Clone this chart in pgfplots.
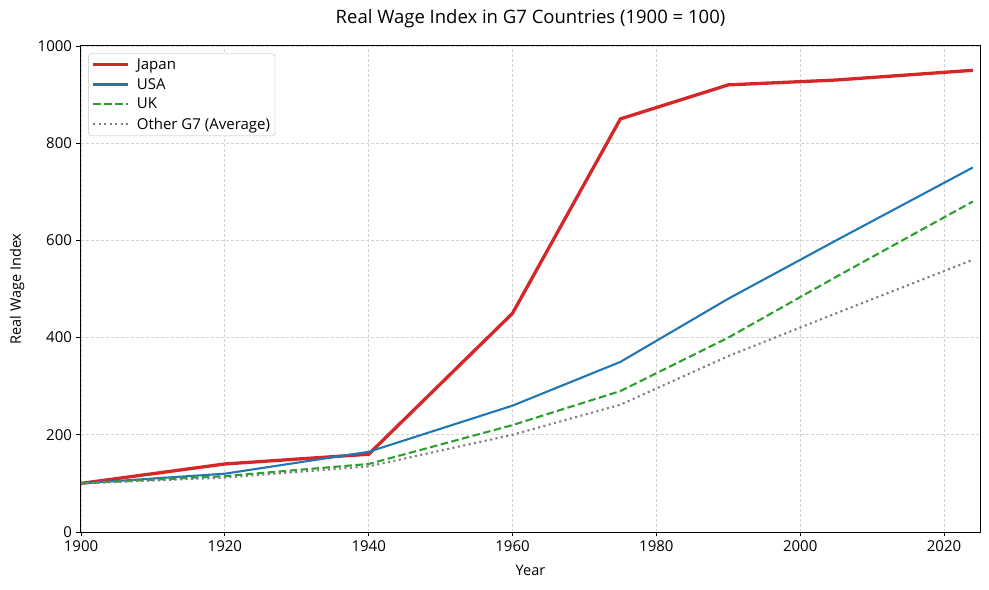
\documentclass[border=0pt]{standalone}
\usepackage{fontspec}
\setmainfont{Open Sans}
\usepackage{pgfplots}
\pgfplotsset{compat=1.18}
\definecolor{cJ}{HTML}{D62728}
\definecolor{cU}{HTML}{1F77B4}
\definecolor{cK}{HTML}{2CA02C}
\definecolor{cO}{HTML}{7F7F7F}
\begin{document}
\begin{tikzpicture}
\begin{axis}[
  at={(0,0)}, anchor=south west,
  scale only axis,
  width=899bp, height=486bp,
  xmin=1900, xmax=2025, ymin=0, ymax=1000,
  xtick={1900,1920,...,2020}, ytick={0,200,...,1000},
  /pgf/number format/assume math mode=true,
  /pgf/number format/1000 sep={},
  tick label style={font=\fontsize{15bp}{17bp}\selectfont},
  xticklabel style={yshift=-1bp},
  yticklabel style={xshift=-1bp},
  tick align=outside, major tick length=4.5bp,
  tick style={black, line width=0.8bp},
  xtick pos=bottom, ytick pos=left,
  axis line style={line width=1bp},
  grid=major,
  major grid style={dash pattern=on 3bp off 2bp, line width=0.7bp, gray!35},
  xlabel={Year}, ylabel={Real Wage Index},
  label style={font=\fontsize{14.5bp}{16bp}\selectfont},
  xlabel style={at={(axis description cs:0.5,-0.08)}, anchor=center},
  ylabel style={at={(axis description cs:-0.0712,0.5)}, anchor=center},
  title={Real Wage Index in G7 Countries (1900 = 100)},
  title style={font=\fontsize{18.5bp}{20bp}\selectfont, at={(axis description cs:0.5,1.044)}, anchor=center},
  legend style={font=\fontsize{15bp}{17bp}\selectfont, draw=gray!30, rounded corners=3bp, line width=0.8bp, at={(0.008,0.985)}, anchor=north west, inner xsep=3bp, inner ysep=3bp, row sep=3.5bp},
  legend cell align=left,
  legend image code/.code={\draw[#1] (0bp,0bp) -- (35bp,0bp); \path (40bp,0bp);},
]
\addplot[cJ, line width=3.3bp] coordinates {(1900,100) (1920,140) (1940,160) (1960,450) (1975,850) (1990,920) (2005,930) (2024,950)};
\addlegendentry{Japan}
\addplot[cU, line width=2.1bp] coordinates {(1900,100) (1920,120) (1940,165) (1960,260) (1975,350) (1990,480) (2005,600) (2024,750)};
\addlegendentry{USA}
\addplot[cK, line width=2.1bp, dash pattern=on 7.5bp off 3.5bp] coordinates {(1900,100) (1920,115) (1940,140) (1960,220) (1975,290) (1990,400) (2005,525) (2024,680)};
\addlegendentry{UK}
\addplot[cO, line width=2.1bp, dash pattern=on 2.1bp off 3.4bp] coordinates {(1900,100) (1920,112) (1940,135) (1960,200) (1975,262) (1990,362) (2005,450) (2024,560)};
\addlegendentry{Other G7 (Average)}
\end{axis}
\pgfresetboundingbox
\path[use as bounding box] (-81bp,-58bp) rectangle (908bp,532bp);
\end{tikzpicture}
\end{document}
